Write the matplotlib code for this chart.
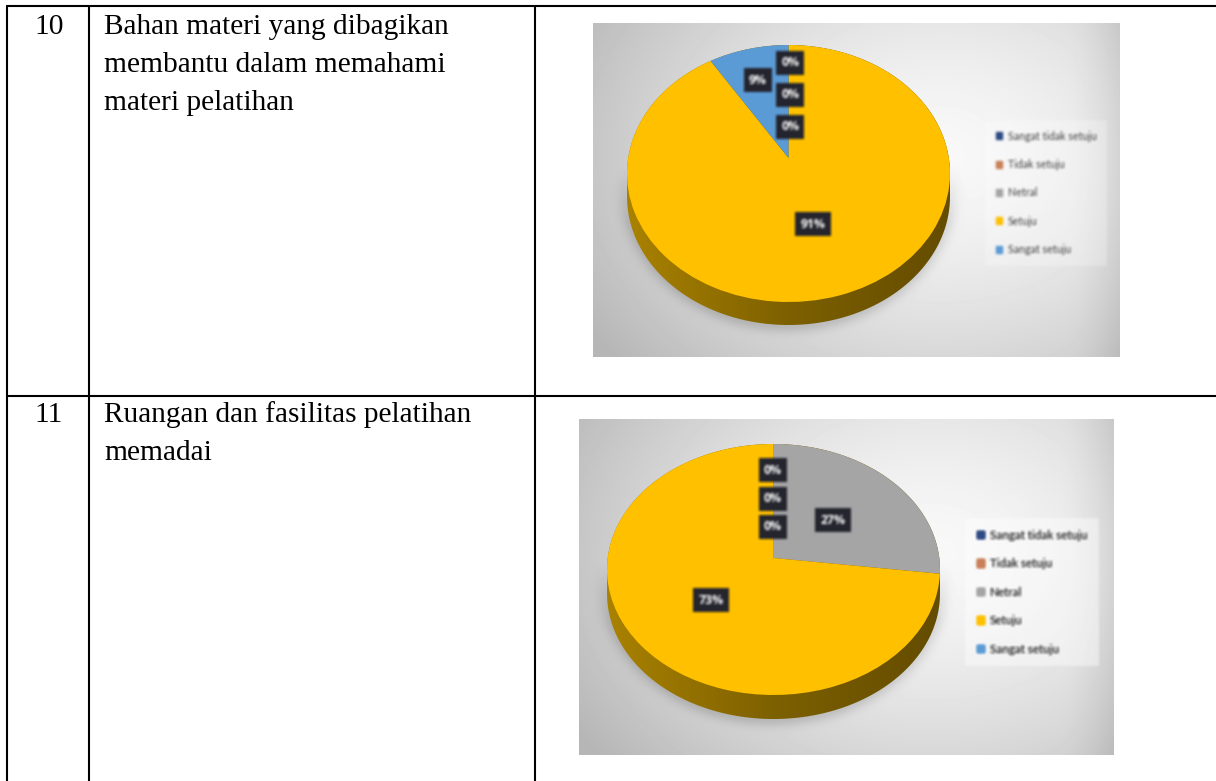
import numpy as np
import matplotlib
matplotlib.use("Agg")
import matplotlib.pyplot as plt
from matplotlib.patches import Patch, Polygon
from matplotlib.transforms import Transform

# data
categories = ["Sangat tidak setuju", "Tidak setuju", "Netral", "Setuju", "Sangat setuju"]
values_10 = [0, 0, 0, 91, 9]
values_11 = [0, 0, 27, 73, 0]
colors = ["#2F4B85", "#C9805A", "#A5A5A5", "#FFC000", "#5B9BD5"]
row_numbers = ["10", "11"]
row_texts = [["Bahan materi yang dibagikan", "membantu dalam memahami", "materi pelatihan"],
             ["Ruangan dan fasilitas pelatihan", "memadai"]]

W, H = 1216, 781
plt.rcParams['font.family'] = ['Liberation Serif', 'DejaVu Sans']
fig = plt.figure(figsize=(W / 100, H / 100), dpi=100)
ax = fig.add_axes([0, 0, 1, 1])


class Persp(Transform):
    # unit circle -> tilted disc in pixel coords, apex is the pie centre
    input_dims = 2
    output_dims = 2

    def __init__(self, cx, cy, a, b, k):
        super().__init__()
        self.cx, self.cy, self.a, self.b, self.k = cx, cy, a, b, k

    def transform_non_affine(self, xy):
        xy = np.asarray(xy)
        d = 1 + self.k * xy[:, 1]
        return np.column_stack([self.cx + self.b * xy[:, 0] / d, self.cy - self.a * xy[:, 1] / d])


def soften(img, dpi):
    # the reference is a blurry scan, blur with premultiplied alpha so no dark fringe
    pad = 4
    img = np.pad(img, ((pad, pad), (pad, pad), (0, 0)))
    alpha = img[:, :, 3:]
    out = np.concatenate([img[:, :, :3] * alpha, alpha], axis=2)
    kernel = np.array([0.1, 0.25, 0.3, 0.25, 0.1])
    for axis in (0, 1):
        out = np.apply_along_axis(lambda v: np.convolve(v, kernel, mode="same"), axis, out)
    alpha = out[:, :, 3:]
    out[:, :, :3] = out[:, :, :3] / np.maximum(alpha, 1e-4)
    return np.clip(out, 0, 1), -pad, -pad


def draw_chart(values, box, apex, top, face_bottom, side_bottom, half_w, label_xy, legend_xy, font_size, spacing):
    x0, x1, y0, y1 = box
    cx, cy = apex
    far, near = cy - top, face_bottom - cy
    k = (near - far) / (near + far)
    a = 2 * far * near / (near + far)
    b = half_w * np.sqrt(1 - k * k)
    depth = side_bottom - face_bottom

    # background with soft shadow
    X, Y = np.meshgrid(np.arange(x0, x1) + .5, np.arange(y0, y1) + .5)
    xn = (X - x0) / (x1 - x0)
    yn = (Y - y0) / (y1 - y0)
    d = np.sqrt(((xn - .66) / .66) ** 2 + ((yn - .40) / .8) ** 2)
    gray = 248 - 50 * np.clip(d, 0, 1.2) ** 1.5
    gray -= 18 * np.clip((xn - .9) / .1, 0, 1) ** 1.5
    mx, my = cx, (top + side_bottom) / 2
    r = np.sqrt(((X - mx) / half_w) ** 2 + ((Y - my) / ((side_bottom - top) / 2)) ** 2)
    shadow = np.exp(-(np.clip(r - 1, 0, None) / .06) ** 2) * np.clip((Y - my + 20) / 60, 0, 1)
    gray = gray - 30 * shadow
    ax.imshow(np.clip(gray, 0, 255), cmap="gray", vmin=0, vmax=255, extent=(x0, x1, y1, y0),
              aspect="auto", interpolation="bilinear", zorder=1)

    # rim of the disc
    t = np.linspace(0, 2 * np.pi, 721)
    trans = Persp(cx, cy, a, b, k)
    edge = trans.transform_non_affine(np.column_stack([np.cos(t), np.sin(t)]))
    edge[np.sin(t) < -k, 1] += depth
    rim = Polygon(edge, closed=True, transform=ax.transData, fc="none", ec="none", zorder=2)
    ax.add_patch(rim)
    gx = np.linspace(0, 1, 300)
    rgb = np.column_stack([np.interp(gx, [0, .5, 1], c) for c in ([170, 125, 100], [130, 96, 76], [0, 0, 0])]) / 255
    im = ax.imshow(rgb[None, :, :], extent=(cx - half_w, cx + half_w, side_bottom, top), aspect="auto", zorder=2)
    im.set_clip_path(rim)

    # the slices, clockwise from the top
    ax.pie(values, colors=colors, startangle=90, counterclock=False, radius=1,
           wedgeprops={"transform": trans + ax.transData, "linewidth": 0, "zorder": 3})

    for v, (lx, ly) in zip(values, label_xy):
        txt = ax.text(lx, ly, f"{v}%", color="white", fontsize=8.8, fontweight="bold", family="Open Sans",
                      ha="center", va="center", zorder=5,
                      bbox=dict(boxstyle="square,pad=0.42", fc="#24242e", ec="none"))
        txt.set_agg_filter(soften)

    handles = [Patch(color=c, label=n) for c, n in zip(colors, categories)]
    leg = ax.legend(handles=handles, loc="upper left", bbox_to_anchor=legend_xy, bbox_transform=ax.transData,
                    borderaxespad=0, prop={"family": "Lato", "size": font_size}, labelcolor="#3f3f3f",
                    handlelength=.62, handleheight=.62, handletextpad=.5, labelspacing=spacing,
                    borderpad=1.0, fancybox=False, framealpha=.25, facecolor="white", edgecolor="none")
    leg.get_frame().set_linewidth(0)
    leg.set_zorder(4)
    leg.set_agg_filter(soften)
    ax.add_artist(leg)


draw_chart(values_10, (593, 1120, 23, 357), (788.5, 158), 45, 302, 325, 161.5,
           [(790, 63), (790, 95), (790, 127), (813, 224), (758, 80)], (985, 120), 7.7, 1.62)
draw_chart(values_11, (579, 1114, 419, 755), (773.5, 558), 444, 695, 719, 166.5,
           [(773, 470), (773, 499), (833, 520), (711, 600), (773, 527)], (965, 518), 8.4, 1.5)

# table rules
ax.hlines([6, 396], 6, W, color="black", lw=1.5, zorder=6)
ax.vlines([7, 89, 535], 6, H, color="black", lw=1.5, zorder=6)

line_ys = [[34, 72, 110], [422, 460]]
for num, lines, ys in zip(row_numbers, row_texts, line_ys):
    ax.text(49, ys[0], num, fontsize=21.2, ha="center", va="baseline", color="black", zorder=7)
    for line, y in zip(lines, ys):
        ax.text(104, y, line, fontsize=21.2, ha="left", va="baseline", color="black", zorder=7)

ax.set_aspect("auto")
ax.set_xlim(0, W)
ax.set_ylim(H, 0)
ax.axis("off")
fig.savefig("out.png", dpi=100)
